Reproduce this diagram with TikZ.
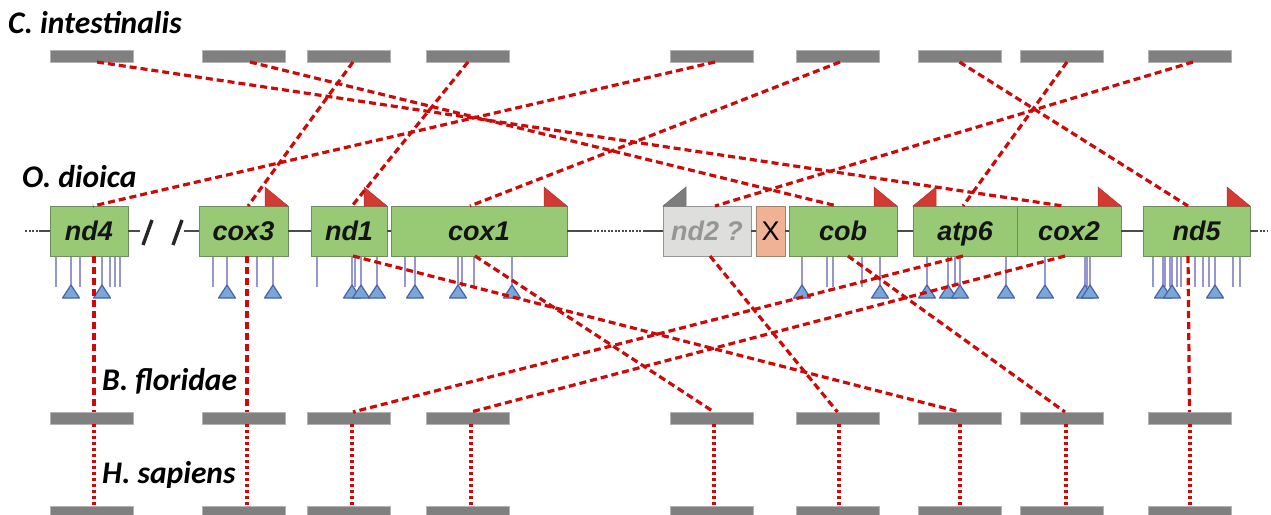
\documentclass[tikz,border=0pt]{standalone}
\usepackage{fontspec}
\setmainfont{Liberation Sans}
\newfontfamily\speciesfont{Carlito}
\definecolor{linkred}{RGB}{204,10,10}
\definecolor{bargray}{RGB}{128,128,128}
\definecolor{baredge}{RGB}{178,178,178}
\definecolor{genefill}{RGB}{152,201,117}
\definecolor{geneedge}{RGB}{112,140,96}
\definecolor{nfill}{RGB}{222,222,220}
\definecolor{nedge}{RGB}{150,150,150}
\definecolor{ntext}{RGB}{150,150,150}
\definecolor{xfill}{RGB}{240,178,148}
\definecolor{xedge}{RGB}{165,130,110}
\definecolor{flagred}{RGB}{210,58,50}
\definecolor{flaggray}{RGB}{125,125,125}
\definecolor{tickc}{RGB}{150,150,208}
\definecolor{trifill}{RGB}{120,168,215}
\definecolor{triedge}{RGB}{75,95,170}
\definecolor{trackc}{RGB}{75,75,75}
\begin{document}
\begin{tikzpicture}[x=1pt,y=-1pt,
  bar/.style={fill=bargray, draw=baredge, line width=0.6pt, minimum width=83pt, minimum height=12pt, inner sep=0pt, outer sep=0pt},
  gene/.style={draw=geneedge, fill=genefill, line width=1pt, minimum height=50pt, inner sep=0pt, outer sep=0pt, text height=19pt, text depth=0pt, font={\fontsize{27pt}{29pt}\selectfont\bfseries\itshape}, text=black!92},
  species/.style={anchor=base west, inner sep=0pt, font={\speciesfont\fontsize{31.5pt}{33pt}\selectfont\bfseries\itshape}},
  link/.style={draw=linkred, line width=3.2pt, dash pattern=on 7pt off 4pt},
  dotlink/.style={draw=linkred, line width=3.2pt, dash pattern=on 3.2pt off 2.8pt},
  track/.style={draw=trackc, line width=2.8pt},
  dottrack/.style={draw=trackc, line width=2.8pt, dash pattern=on 2pt off 1.5pt},
  slashmark/.style={draw=black!85, line width=3.4pt},
  tickline/.style={draw=tickc, line width=2.4pt},
  sitetri/.style={fill=trifill, draw=triedge, line width=1.2pt, line join=round},
  flagr/.style={fill=flagred, draw=flagred!85!black, line width=0.5pt},
  flagg/.style={fill=flaggray, draw=flaggray!85!black, line width=0.5pt}
]
\useasboundingbox (0,0) rectangle (1271,514);
\fill[white] (0,0) rectangle (1271,514);

% species labels
\node[species] (lc) at (8,33) {C. intestinalis};
\node[species] (lo) at (22,187) {O. dioica};
\node[species] (lb) at (102,390) {B. floridae};
\node[species] (lh) at (102,483) {H. sapiens};

% bars
\foreach \i/\x in {1/91.5,2/243.5,3/348.5,4/468,5/712,6/837.5,7/959.5,8/1061.5,9/1189.5}{
  \node[bar] (T\i) at (\x,56) {};
  \node[bar] (B\i) at (\x,418) {};
  \node[bar] (H\i) at (\x,512) {};
}

% track
\coordinate (trL) at (25,231);
\coordinate (trL2) at (40,231);
\coordinate (sl1) at (140,231);
\coordinate (sl2) at (184,231);
\coordinate (gapA) at (590,231);
\coordinate (gapB) at (645,231);
\coordinate (trR) at (1256,231);
\coordinate (trR2) at (1268,231);

% ticks and sites
\foreach \x in {56,80,110,115,120,213,257,317,355,405,462,474,827,833,862,955,1087,1153,1165,1170,1177,1181,1195,1203,1209,1233,1240}{
  \draw[tickline] (\x,256) -- (\x,287);
}
\foreach \x in {71,102,227,273,352,361,377,415,458,512,802,880,927,948,960,1006,1045,1085,1090,1163,1172,1215}{
  \draw[tickline] (\x,256) -- (\x,287);
  \draw[sitetri] (\x,285) -- (\x+8.5,298) -- (\x-8.5,298) -- cycle;
}

% gene boxes
\node[gene, minimum width=78pt] (nd4) at (89,231) {nd4};
\node[gene, minimum width=89pt] (cox3) at (243.5,231) {cox3};
\node[gene, minimum width=76pt] (nd1) at (349,231) {nd1};
\node[gene, minimum width=176pt] (cox1) at (479,231) {cox1};
\node[gene, minimum width=88pt, fill=nfill, draw=nedge, text=ntext] (nd2) at (707,231) {nd2 ?};
\node[gene, minimum width=29pt, fill=xfill, draw=xedge, text=black, font={\fontsize{27pt}{29pt}\selectfont}] (X) at (770.5,231) {X};
\node[gene, minimum width=108pt] (cob) at (843,231) {cob};
\node[gene, minimum width=104pt] (atp6) at (965,231) {atp6};
\node[gene, minimum width=104pt] (cox2) at (1069,231) {cox2};
\node[gene, minimum width=107pt] (nd5) at (1196.5,231) {nd5};

% track segments
\draw[dottrack] (trL) -- (trL2);
\draw[track] (trL2) -- (nd4.west);
\draw[track] (nd4.east) -- (sl1);
\draw[slashmark] (143,245) -- (152,220);
\draw[slashmark] (173,245) -- (182,220);
\draw[track] (sl2) -- (cox3.west);
\draw[track] (cox3.east) -- (nd1.west);
\draw[track] (nd1.east) -- (cox1.west);
\draw[track] (cox1.east) -- (gapA);
\draw[dottrack] (gapA) -- (gapB);
\draw[track] (gapB) -- (nd2.west);
\draw[track] (nd2.east) -- (X.west);
\draw[track] (X.east) -- (cob.west);
\draw[track] (cob.east) -- (atp6.west);
\draw[track] (cox2.east) -- (nd5.west);
\draw[track] (nd5.east) -- (trR);
\draw[dottrack] (trR) -- (trR2);

% flags
\foreach \g in {cox3,nd1,cox1,cob,cox2,nd5}{
  \filldraw[flagr] ([xshift=-23pt]\g.north east) -- ++(0,-19) -- (\g.north east) -- cycle;
}
\filldraw[flagr] ([xshift=23pt]atp6.north west) -- ++(0,-19) -- (atp6.north west) -- cycle;
\filldraw[flagg] ([xshift=23pt]nd2.north west) -- ++(0,-19) -- (nd2.north west) -- cycle;

% links C. intestinalis -> O. dioica
\draw[link] ([xshift=5.5pt]T1.south) -- ([xshift=-6pt]cox2.north);
\draw[link] ([xshift=6.5pt]T2.south) -- ([xshift=-6pt]cob.north);
\draw[link] ([xshift=4.5pt]T3.south) -- ([xshift=4.5pt]cox3.north);
\draw[link] (T4.south) -- ([xshift=3pt]nd1.north);
\draw[link] ([xshift=3pt]T5.south) -- ([xshift=4pt]nd4.north);
\draw[link] ([xshift=2.5pt]T6.south) -- ([xshift=-9pt]cox1.north);
\draw[link] (T7.south) -- ([xshift=-8.5pt]nd5.north);
\draw[link] ([xshift=5.5pt]T8.south) -- ([xshift=-2pt]atp6.north);
\draw[link] ([xshift=3.5pt]T9.south) -- ([xshift=8pt]nd2.north);

% links O. dioica -> B. floridae
\draw[link] ([xshift=5pt]nd4.south) -- ([xshift=2.5pt]B1.north);
\draw[link] ([xshift=3.5pt]cox3.south) -- ([xshift=3.5pt]B2.north);
\draw[link] ([xshift=4pt]nd1.south) -- ([xshift=0.5pt]B7.north);
\draw[link] ([xshift=-4pt]cox1.south) -- ([xshift=2pt]B5.north);
\draw[link] ([xshift=3pt]nd2.south) -- (B6.north);
\draw[link] ([xshift=5pt]cob.south) -- ([xshift=3.5pt]B8.north);
\draw[link] ([xshift=-2pt]atp6.south) -- ([xshift=4.5pt]B3.north);
\draw[link] ([xshift=-4pt]cox2.south) -- ([xshift=3pt]B4.north);
\draw[link] ([xshift=-8.5pt]nd5.south) -- (B9.north);

% links B. floridae -> H. sapiens
\foreach \i/\s in {1/2.5,2/3.5,3/3.5,4/3,5/2,6/1.5,7/0.5,8/4.5,9/0.5}{
  \draw[dotlink] ([xshift=\s pt]B\i.south) -- ([xshift=\s pt]H\i.north);
}
\end{tikzpicture}
\end{document}
